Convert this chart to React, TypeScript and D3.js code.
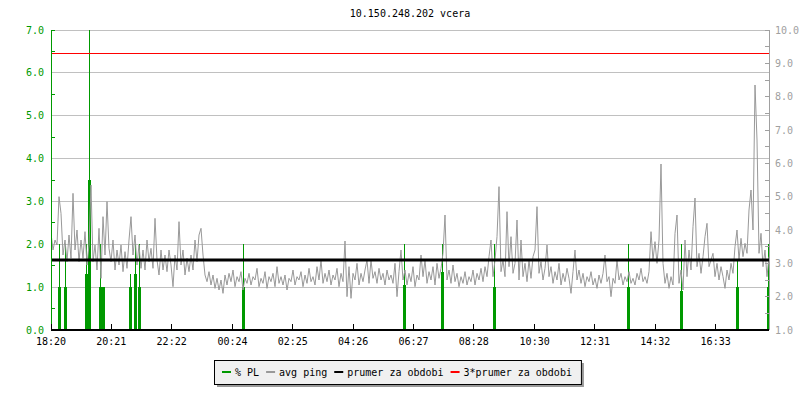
import React from 'react';
import * as d3 from 'd3';

const TITLE = '10.150.248.202 vcera';
const xTickLabels = ['18:20', '20:21', '22:22', '00:24', '02:25', '04:26', '06:27', '08:28', '10:30', '12:31', '14:32', '16:33'];
const xTickMinutes = [0, 121, 242, 364, 485, 606, 727, 848, 970, 1091, 1212, 1333];
const leftTicks = [0, 1, 2, 3, 4, 5, 6, 7];
const rightTicks = [1, 2, 3, 4, 5, 6, 7, 8, 9, 10];

// avg ping (ms), one sample every ~4 minutes over 24 h
const pingMs = [
  3.9, 3.4, 3.7, 3.55, 5.0, 4.5, 3.25, 3.7, 3.05, 3.85, 3.15, 5.1, 3.4, 4.0, 3.05, 3.7, 3.15, 3.95, 2.95, 3.55,
  5.35, 3.05, 3.55, 2.8, 4.05, 2.55, 4.4, 3.25, 4.85, 3.45, 3.05, 3.7, 2.8, 3.4, 2.95, 3.55, 2.75, 3.35, 2.85, 3.7,
  4.4, 3.25, 3.85, 2.95, 3.55, 2.85, 3.4, 2.8, 3.7, 3.05, 3.45, 2.85, 4.35, 3.1, 2.65, 3.4, 2.8, 3.25, 2.75, 3.4,
  2.95, 2.3, 3.25, 2.8, 4.25, 2.95, 3.4, 2.65, 3.15, 2.75, 3.25, 2.8, 3.7, 3.05, 3.85, 4.05, 3.25, 2.65, 2.45, 2.75,
  2.35, 2.65, 2.25, 2.55, 2.2, 2.5, 2.1,
  2.65, 2.35, 2.7, 2.45, 2.8, 2.3, 2.6, 2.45, 2.75, 2.2, 2.55, 2.4, 2.7, 2.35, 2.6, 2.5, 2.85, 2.3, 2.55, 2.4,
  2.75, 2.25, 2.6, 2.45, 2.7, 2.3, 2.9, 2.4, 2.6, 2.35, 2.65, 2.2, 2.55, 2.45, 2.8, 2.35, 2.6, 2.5, 2.75, 2.3,
  2.65, 2.4, 2.85, 2.45, 2.6, 2.35, 2.9, 2.5, 3.1, 2.4, 2.7, 2.45, 2.8, 2.35, 2.65, 2.5, 2.85, 2.3, 2.7, 2.45,
  3.67, 2.0, 2.9, 1.95, 2.7, 2.5, 3.0, 2.35, 2.7, 2.45, 2.8, 3.1, 2.4, 3.1, 2.55, 2.75, 2.4, 2.85, 2.5, 2.7,
  2.35, 2.8, 2.5, 2.65, 2.4, 3.0, 2.0, 2.75, 3.4,
  2.5, 2.8, 2.35, 2.7, 2.45, 2.9, 2.3, 2.65, 2.5, 3.25, 2.6, 3.1, 2.4, 2.75, 2.5, 2.9, 2.35, 3.0, 2.55, 2.85,
  3.3, 4.45, 2.5, 2.8, 2.4, 2.95, 2.45, 2.7, 2.3, 2.6, 2.4, 2.75, 2.35, 2.6,
  2.45, 2.8, 2.35, 2.7, 2.5, 2.85, 2.45, 2.9, 2.6, 3.2, 3.7,
  2.6, 3.1, 3.8, 5.3, 2.75, 3.1, 2.6, 4.55, 2.9, 3.8, 2.7, 3.0, 4.3, 2.5, 3.7, 2.6, 3.0, 2.45, 3.1, 2.55,
  3.2, 3.4, 4.7, 2.7,
  3.05, 2.5, 2.85, 3.55, 2.6, 2.9, 2.4, 2.75, 2.5, 3.0, 2.35, 2.7, 2.45, 2.85, 2.55, 2.1, 2.75, 3.4, 2.5, 2.8,
  2.4, 2.7, 2.3, 2.6, 2.45, 2.75, 2.35, 2.55, 2.25, 2.65, 2.4, 2.7, 3.25, 2.45, 2.6, 2.0, 2.55, 2.4, 3.1, 2.5,
  2.7, 2.35, 2.6, 2.45, 2.75, 2.4, 2.55, 2.35, 2.7, 2.5, 2.85, 2.45, 2.6, 2.4, 2.75,
  3.95, 3.1, 3.65, 3.0, 3.7, 5.98, 3.0, 2.4, 2.7, 2.25, 2.6, 2.35, 3.9, 4.45, 2.4, 2.8, 2.2, 3.7, 2.6, 3.4,
  2.8, 4.1, 4.96, 2.9, 3.3, 2.7, 3.2, 3.8, 4.2, 2.9, 3.1, 3.3, 2.6, 3.0, 2.5, 2.9, 2.6, 2.25, 2.8, 2.5,
  3.0, 2.7, 3.5, 4.0, 3.1, 3.75, 3.2, 3.6, 3.3, 4.6, 5.2, 4.0, 8.35, 6.7, 3.3, 3.9, 2.9, 3.4, 2.6, 3.2,
];

// packet loss events (%): minute of day-window, peak value, sustained value
const plMinutes = [18, 29, 72, 78, 99, 105, 160, 170, 178, 386, 708, 785, 889, 1159, 1264, 1377, 1439];
const plPeak = [2.0, 2.0, 2.0, 7.5, 2.0, 1.0, 1.3, 2.0, 2.0, 2.0, 2.0, 2.0, 2.0, 2.0, 2.0, 1.6, 2.0];
const plBase = [1.0, 1.0, 1.3, 3.5, 1.0, 1.0, 1.0, 1.3, 1.0, 1.0, 1.05, 1.35, 1.0, 1.0, 0.9, 1.0, 1.0];

const avgPing = 3.1;

const legendLabels = ['% PL', 'avg ping', 'prumer za obdobi', '3*prumer za obdobi'];
const legendColors = ['#009900', '#999999', '#000000', '#ff0000'];

const FONT = '"DejaVu Sans Mono", monospace';

export default function App() {
  const W = 800, H = 400;
  const L = 51, R = 769, T = 30, B = 330;
  const x = d3.scaleLinear().domain([0, 1440]).range([L, R]);
  const yL = d3.scaleLinear().domain([0, 7]).range([B, T]);
  const yR = d3.scaleLinear().domain([1, 10]).range([B, T]);
  const step = 1440 / (pingMs.length - 1);
  const pingLine = d3.line<number>().x((_, i) => x(i * step)).y((d) => yR(d));

  const halfL = d3.range(0, 7.01, 0.5).filter((v) => v % 1 !== 0 || v === 7);
  const halfR = d3.range(1, 10.01, 0.5);

  // legend layout (monospace 6px per char)
  const cw = 6.02;
  let cx = 222;
  const legendPos = legendLabels.map((lab) => {
    const sw = cx;
    const tx = cx + 13;
    cx = tx + lab.length * cw + 7;
    return { sw, tx };
  });
  const boxX = 214;
  const boxW = cx - 7 + 9 - boxX;

  return (
    <svg width={W} height={H} style={{ position: 'absolute', left: 0, top: 0, background: '#fff' }} fontFamily={FONT}>
      <defs>
        <clipPath id="plot">
          <rect x={L} y={T} width={R - L} height={B - T} />
        </clipPath>
      </defs>
      <rect x={0} y={0} width={W} height={H} fill="#fff" />
      <text x={(L + R) / 2} y={17} textAnchor="middle" fontSize={10} fill="#000">{TITLE}</text>

      {/* gridlines */}
      {leftTicks.filter((v) => v > 0).map((v) => (
        <line key={'g' + v} x1={L} x2={R} y1={yL(v)} y2={yL(v)} stroke="#c0c0c0" strokeWidth={1} shapeRendering="crispEdges" />
      ))}

      {/* packet loss */}
      <g clipPath="url(#plot)">
        {plMinutes.map((m, i) => (
          <g key={'pl' + i}>
            <line x1={x(m)} x2={x(m)} y1={yL(0)} y2={yL(Math.min(plPeak[i], 7.2))} stroke="#009900" strokeWidth={1} shapeRendering="crispEdges" />
            <line x1={x(m)} x2={x(m)} y1={yL(0)} y2={yL(plBase[i])} stroke="#009900" strokeWidth={3} shapeRendering="crispEdges" />
          </g>
        ))}
        <path d={pingLine(pingMs) || ''} fill="none" stroke="#999999" strokeWidth={1} />
      </g>

      {/* average and 3x average */}
      <line x1={L} x2={R} y1={yR(avgPing)} y2={yR(avgPing)} stroke="#000" strokeWidth={3} />
      <line x1={L} x2={R} y1={yR(avgPing * 3)} y2={yR(avgPing * 3)} stroke="#ff0000" strokeWidth={1} shapeRendering="crispEdges" />

      {/* left axis */}
      <line x1={L} x2={L} y1={T} y2={B - 4} stroke="#009900" strokeWidth={1} shapeRendering="crispEdges" />
      {halfL.map((v) => (
        <line key={'lt' + v} x1={L} x2={L + 4} y1={yL(v)} y2={yL(v)} stroke="#009900" strokeWidth={1} shapeRendering="crispEdges" />
      ))}
      {leftTicks.map((v) => (
        <text key={'ll' + v} x={44} y={yL(v) + 3.5} textAnchor="end" fontSize={10} fill="#009900">{v.toFixed(1)}</text>
      ))}

      {/* right axis */}
      <line x1={R} x2={R} y1={T} y2={B} stroke="#a0a0a0" strokeWidth={1} shapeRendering="crispEdges" />
      {halfR.map((v) => (
        <line key={'rt' + v} x1={R - 4} x2={R} y1={yR(v)} y2={yR(v)} stroke="#a0a0a0" strokeWidth={1} shapeRendering="crispEdges" />
      ))}
      {rightTicks.map((v) => (
        <text key={'rl' + v} x={775} y={yR(v) + 3.5} textAnchor="start" fontSize={10} fill="#a0a0a0">{v.toFixed(1)}</text>
      ))}

      {/* bottom axis */}
      <line x1={L} x2={R} y1={B} y2={B} stroke="#000" strokeWidth={2} />
      {xTickMinutes.map((m, i) => (
        <g key={'xt' + i}>
          <line x1={x(m)} x2={x(m)} y1={B} y2={B - 6} stroke="#000" strokeWidth={1} shapeRendering="crispEdges" />
          <text x={x(m)} y={345} textAnchor="middle" fontSize={10} fill="#000">{xTickLabels[i]}</text>
        </g>
      ))}

      {/* legend */}
      <rect x={boxX + 3} y={363} width={boxW} height={24} fill="#999" />
      <rect x={boxX + 0.5} y={360.5} width={boxW} height={24} fill="#f0f0f0" stroke="#000" strokeWidth={1} />
      {legendLabels.map((lab, i) => (
        <g key={'lg' + i}>
          <line x1={legendPos[i].sw} x2={legendPos[i].sw + 9} y1={372} y2={372} stroke={legendColors[i]} strokeWidth={2} />
          <text x={legendPos[i].tx} y={376} fontSize={10} fill="#000">{lab}</text>
        </g>
      ))}
    </svg>
  );
}
